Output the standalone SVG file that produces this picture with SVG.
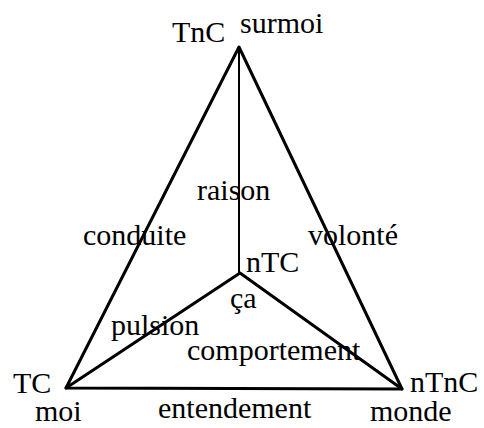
<svg xmlns="http://www.w3.org/2000/svg" width="484" height="428" viewBox="0 0 484 428">
<style>
text{font-family:"Liberation Serif","Times New Roman",serif;font-size:30px;fill:#000}
.e{stroke:#000;stroke-width:3;fill:none;stroke-linecap:round;stroke-linejoin:round}
.v{stroke:#000;stroke-width:2;fill:none}
</style>
<rect width="484" height="428" fill="#fff"/>
<g id="connectors">
<path class="e" d="M66 388 L239 47 L402 389 Z"/>
<path class="e" d="M66 388 L240 273 L402 389"/>
<path class="v" d="M239 47 L239 273"/>
</g>
<g id="labels">
<text x="197" y="200">raison</text>
<text x="83" y="245">conduite</text>
<text x="308" y="245">volonté</text>
<text x="111" y="335">pulsion</text>
<text x="187" y="360">comportement</text>
<text x="158" y="418">entendement</text>
</g>
<g id="node-top"><text x="172" y="42">TnC</text><text x="240" y="33">surmoi</text></g>
<g id="node-center"><text x="246" y="272">nTC</text><text x="230" y="308">ça</text></g>
<g id="node-left"><text x="13" y="393">TC</text><text x="35" y="421">moi</text></g>
<g id="node-right"><text x="410" y="392">nTnC</text><text x="370" y="421">monde</text></g>
</svg>
